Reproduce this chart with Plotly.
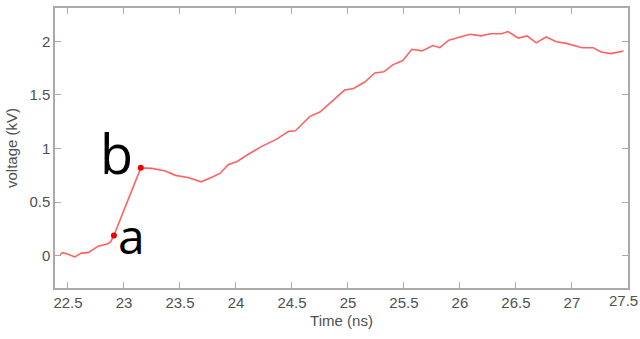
import plotly.graph_objects as go

time_ns = [22.43, 22.45, 22.49, 22.56, 22.62, 22.68, 22.77, 22.85, 22.88, 22.91,
           23.15, 23.25, 23.37, 23.46, 23.57, 23.69, 23.78, 23.86, 23.93, 24.01,
           24.10, 24.17, 24.23, 24.36, 24.47, 24.53, 24.66, 24.75, 24.85, 24.97,
           25.05, 25.15, 25.24, 25.32, 25.40, 25.49, 25.57, 25.66, 25.76, 25.82,
           25.90, 26.00, 26.09, 26.19, 26.27, 26.37, 26.43, 26.52, 26.60, 26.68,
           26.77, 26.86, 26.95, 27.09, 27.19, 27.26, 27.35, 27.46]
voltage_kv = [0.01, 0.03, 0.02, -0.01, 0.025, 0.03, 0.09, 0.11, 0.13, 0.19,
              0.82, 0.815, 0.79, 0.75, 0.73, 0.69, 0.73, 0.77, 0.85, 0.88,
              0.94, 0.98, 1.02, 1.085, 1.16, 1.165, 1.30, 1.34, 1.435, 1.545,
              1.56, 1.62, 1.705, 1.715, 1.78, 1.82, 1.925, 1.91, 1.96, 1.94,
              2.01, 2.04, 2.065, 2.05, 2.07, 2.07, 2.09, 2.03, 2.05, 1.985,
              2.04, 1.995, 1.98, 1.94, 1.94, 1.90, 1.885, 1.91]

point_labels = ["a", "b"]
point_time = [22.91, 23.15]
point_volt = [0.19, 0.82]
label_time = [23.07, 22.93]
label_volt = [0.19, 0.96]
label_size = [48, 54]

x_ticks = [22.5, 23, 23.5, 24, 24.5, 25, 25.5, 26, 26.5, 27, 27.5]
y_ticks = [0, 0.5, 1, 1.5, 2]

tick_font = dict(family="Liberation Sans", size=15, color="#505050")

fig = go.Figure()
fig.add_trace(go.Scatter(x=time_ns, y=voltage_kv, mode="lines",
                         line=dict(color="rgba(255,70,70,0.85)", width=1.6),
                         showlegend=False, hoverinfo="skip"))
fig.add_trace(go.Scatter(x=point_time, y=point_volt, mode="markers",
                         marker=dict(color="#ee0000", size=6),
                         showlegend=False, hoverinfo="skip"))
for t, xv, yv, sz in zip(point_labels, label_time, label_volt, label_size):
    fig.add_annotation(x=xv, y=yv, text=t, showarrow=False,
                       xanchor="center", yanchor="middle",
                       font=dict(family="Open Sans", size=sz, color="black"))

# last x tick label drawn as annotation so it stays inside the page
x_ticktext = [f"{v:g}" for v in x_ticks]
last_label = x_ticktext[-1]
x_ticktext[-1] = ""
fig.add_annotation(x=x_ticks[-1], xref="x", y=0, yref="paper", text=last_label,
                   showarrow=False, xanchor="right", yanchor="top",
                   xshift=12, yshift=-2, font=tick_font)

axis_common = dict(showline=True, linecolor="#aaaaaa", linewidth=1.5, mirror="ticks",
                   ticks="inside", ticklen=6, tickcolor="#aaaaaa", tickwidth=1,
                   showgrid=False, zeroline=False, automargin=False,
                   tickfont=tick_font)
fig.update_xaxes(range=[22.384, 27.5005], tickvals=x_ticks, ticktext=x_ticktext,
                 title=dict(text="Time (ns)", standoff=6,
                            font=dict(family="Liberation Sans", size=15, color="#505050")),
                 **axis_common)
fig.update_yaxes(range=[-0.30, 2.31], tickvals=y_ticks,
                 ticktext=[f"{v:g}" for v in y_ticks],
                 title=dict(text="voltage (kV)", standoff=8,
                            font=dict(family="Liberation Sans", size=15, color="#505050")),
                 **axis_common)
fig.update_layout(width=640, height=339, margin=dict(l=55, r=12, t=8, b=51),
                  plot_bgcolor="white", paper_bgcolor="white")
fig.write_html("out.html")
